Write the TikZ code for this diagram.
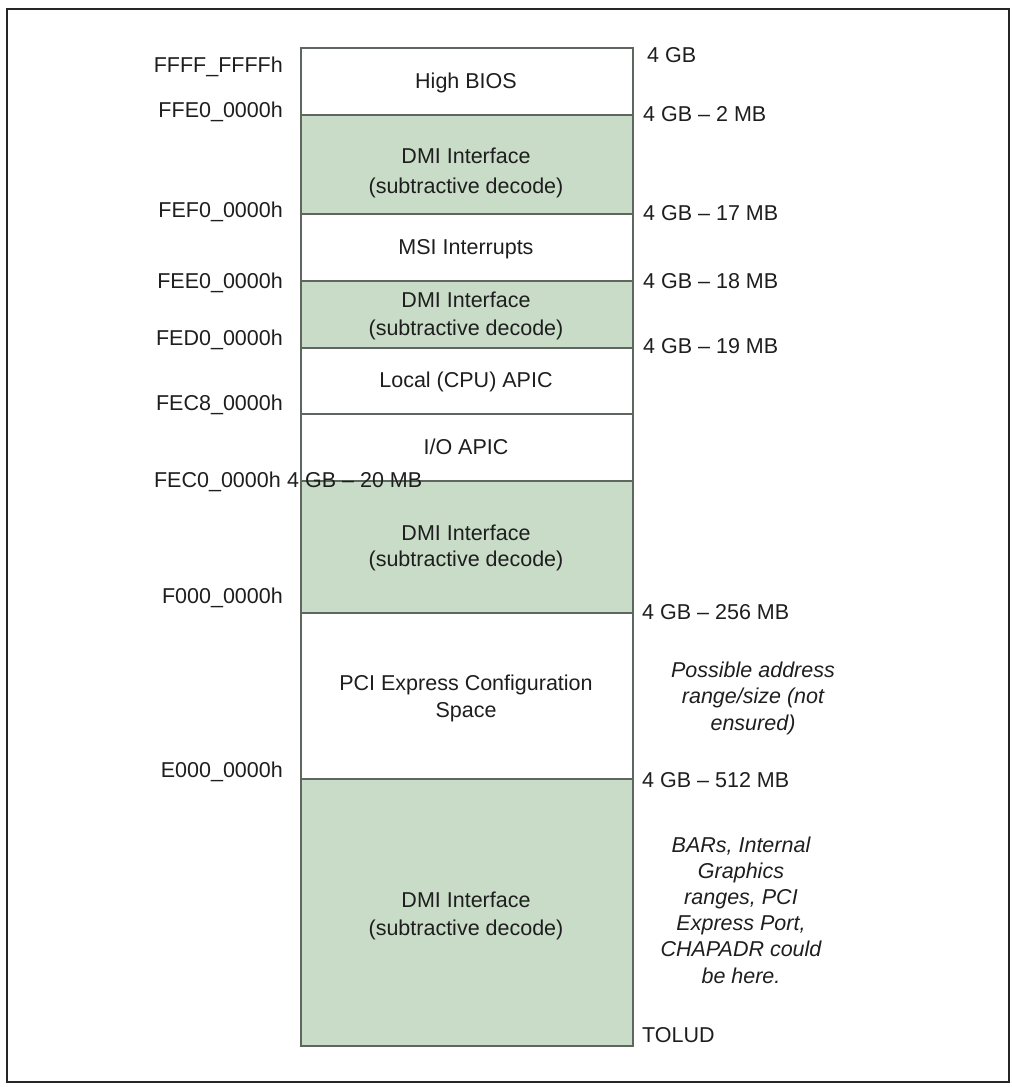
\documentclass[tikz,border=0pt]{standalone}
\usepackage{fontspec}
\setmainfont{Liberation Sans}
\definecolor{dmi}{HTML}{C8DCC8}
\definecolor{linec}{HTML}{5F665F}
\definecolor{ink}{HTML}{1E1E1E}
\begin{document}
\begin{tikzpicture}[x=1pt,y=-1pt]
\tikzset{
 base font/.style={font=\fontsize{21.5}{26}\selectfont},
 region/.style={draw=linec, line width=1.5pt, minimum width=332pt, inner sep=0pt, anchor=north west},
 dmiregion/.style={region, fill=dmi},
 boxtxt/.style={inner sep=0pt, align=center, anchor=north, text=ink},
 onetxt/.style={inner sep=0pt, anchor=base, text=ink, base font},
 addr/.style={inner sep=0pt, anchor=base east, text=ink, base font},
 sizelab/.style={inner sep=0pt, anchor=base west, text=ink, base font},
 note/.style={inner sep=0pt, align=center, anchor=north, text=ink},
}
\useasboundingbox (0,0) rectangle (1012,1087);
\draw[line width=2pt, draw=black!85] (7,9) rectangle (1009,1082);

% regions
\node[region, minimum height=67pt] (hbios) at (300,47) {};
\node[dmiregion, minimum height=99pt] (dmiA) at (300,114) {};
\node[region, minimum height=67pt] (msi) at (300,213) {};
\node[dmiregion, minimum height=67pt] (dmiB) at (300,280) {};
\node[region, minimum height=66pt] (lapic) at (300,347) {};
\node[region, minimum height=67pt] (ioapic) at (300,413) {};
\node[dmiregion, minimum height=132pt] (dmiC) at (300,480) {};
\node[region, minimum height=166pt] (pcie) at (300,612) {};
\node[dmiregion, minimum height=267pt] (dmiD) at (300,778) {};

% region texts
\node[onetxt] (thbios) at (466,88) {High BIOS};
\node[boxtxt, font=\fontsize{21.5}{30}\selectfont] (tdmiA) at (466,147.3) {DMI Interface\\(subtractive decode)};
\node[onetxt] (tmsi) at (466,254) {MSI Interrupts};
\node[boxtxt, font=\fontsize{21.5}{28}\selectfont] (tdmiB) at (466,291.3) {DMI Interface\\(subtractive decode)};
\node[onetxt] (tlapic) at (466,387) {Local (CPU) APIC};
\node[onetxt] (tioapic) at (466,454) {I/O APIC};
\node[boxtxt, font=\fontsize{21.5}{26}\selectfont] (tdmiC) at (466,524.3) {DMI Interface\\(subtractive decode)};
\node[boxtxt, font=\fontsize{21.5}{27}\selectfont] (tpcie) at (466,674.3) {PCI Express Configuration\\Space};
\node[boxtxt, font=\fontsize{21.5}{28}\selectfont] (tdmiD) at (466,891.3) {DMI Interface\\(subtractive decode)};

% addresses (left)
\node[addr] (aFFFF) at (283,72.7) {FFFF\_FFFFh};
\node[addr] (aFFE0) at (283,117) {FFE0\_0000h};
\node[addr] (aFEF0) at (283,217) {FEF0\_0000h};
\node[addr] (aFEE0) at (283,288) {FEE0\_0000h};
\node[addr] (aFED0) at (283,345) {FED0\_0000h};
\node[addr] (aFEC8) at (283,410) {FEC8\_0000h};
\node[addr] (aFEC0) at (281,487) {FEC0\_0000h};
\node[addr] (aF000) at (283,603) {F000\_0000h};
\node[addr] (aE000) at (283,777) {E000\_0000h};

% sizes (right)
\node[sizelab] (s4G) at (647,62) {4 GB};
\node[sizelab] (s2M) at (643,121) {4 GB – 2 MB};
\node[sizelab] (s17M) at (643,220) {4 GB – 17 MB};
\node[sizelab] (s18M) at (643,288) {4 GB – 18 MB};
\node[sizelab] (s19M) at (643,353) {4 GB – 19 MB};
\node[sizelab] (s20M) at (287,487) {4 GB – 20 MB};
\node[sizelab] (s256M) at (642,619) {4 GB – 256 MB};
\node[sizelab] (s512M) at (642,787) {4 GB – 512 MB};
\node[sizelab] (stolud) at (642,1042) {TOLUD};

% notes
\node[note, font=\fontsize{21.5}{26.5}\selectfont\itshape] (npcie) at (753,661.3) {Possible address\\range/size (not\\ensured)};
\node[note, font=\fontsize{21.5}{26.2}\selectfont\itshape] (nbars) at (741,836.3) {BARs, Internal\\Graphics\\ranges, PCI\\Express Port,\\CHAPADR could\\be here.};
\end{tikzpicture}
\end{document}
